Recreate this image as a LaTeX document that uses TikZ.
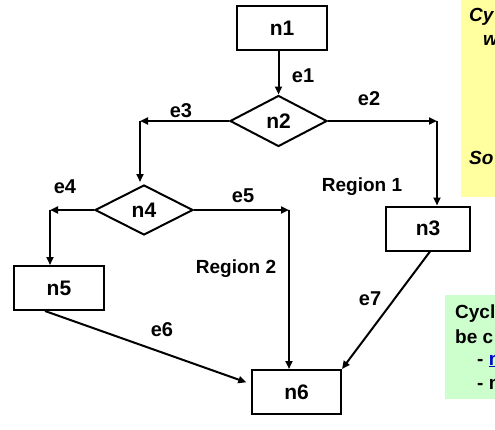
\documentclass[tikz,border=0pt]{standalone}
\usepackage{fontspec}
\setmainfont{Liberation Sans}
\usetikzlibrary{shapes.geometric,arrows.meta}
\definecolor{noteyellow}{RGB}{255,255,160}
\definecolor{notegreen}{RGB}{204,255,204}
\definecolor{linkblue}{RGB}{0,0,200}
\begin{document}
\begin{tikzpicture}[x=1pt,y=-1pt,
  every node/.style={font=\bfseries\fontsize{21}{24}\selectfont},
  boxnode/.style={draw,line width=2pt,minimum width=90pt,minimum height=44pt,inner sep=0pt},
  decision/.style={draw,diamond,line width=2pt,inner sep=0pt,minimum width=97pt,minimum height=51pt,aspect=1.9},
  edge/.style={line width=2pt,-{Triangle[length=8pt,width=7pt]}},
  lbl/.style={font=\bfseries\fontsize{20}{22}\selectfont},
  region/.style={font=\bfseries\fontsize{19}{21}\selectfont},
  note/.style={font=\bfseries\fontsize{19}{21}\selectfont,anchor=base west,inner sep=0pt},
  inote/.style={note,font=\bfseries\itshape\fontsize{19}{21}\selectfont}]
\useasboundingbox (0,0) rectangle (495,429);
% notes
\fill[noteyellow] (461,0) rectangle (500,197);
\fill[notegreen] (445,295) rectangle (500,399);
\node[inote] (y1) at (469,21) {Cy};
\node[inote] (y2) at (483,45) {w};
\node[inote] (y3) at (469,164) {So};
\node[note] (g1) at (455,318) {Cycl};
\node[note] (g2) at (455,343) {be c};
\node[note] (g3) at (477,365) {- \textcolor{linkblue}{\underline{n}}};
\node[note] (g4) at (477,389) {- n};
% nodes
\node[boxnode] (n1) at (282,28) {n1};
\node[decision] (n2) at (278.5,121) {n2};
\node[boxnode,minimum width=84pt] (n3) at (428,228.5) {n3};
\node[decision,minimum width=98pt,minimum height=50pt] (n4) at (144,210) {n4};
\node[boxnode,minimum height=44pt] (n5) at (59,288) {n5};
\node[boxnode,minimum width=89pt] (n6) at (296.5,392) {n6};
% corner coordinates
\coordinate (c2) at (n2.east -| 437,0);
\coordinate (c3) at (n2.west -| 140,0);
\coordinate (c4) at (n4.west -| 50,0);
\coordinate (c5) at (n4.east -| 289,0);
% edges
\draw[edge] (n1.south -| n2.north) -- (n2.north);
\draw[edge] (n2.east) -- (c2);
\draw[edge] (c2) -- (c2 |- n3.north);
\draw[edge] (n2.west) -- (c3);
\draw[edge] (c3) -- ([yshift=2pt]c3 |- n4.north);
\draw[edge] (n4.west) -- (c4);
\draw[edge] (c4) -- (c4 |- n5.north);
\draw[edge] (n4.east) -- (c5);
\draw[edge] (c5) -- (c5 |- n6.north);
\draw[edge,shorten >=5pt] ([xshift=-14pt]n5.south) -- ([yshift=8pt]n6.west);
\draw[edge] ([xshift=2pt]n3.south) -- (n6.north east);
% labels
\node[lbl] (l1) at (303,76) {e1};
\node[lbl] (l2) at (369,99) {e2};
\node[lbl] (l3) at (181,111) {e3};
\node[lbl] (l4) at (65,187) {e4};
\node[lbl] (l5) at (243,196) {e5};
\node[lbl] (l6) at (162,330) {e6};
\node[lbl] (l7) at (370,299) {e7};
\node[region] (r1) at (362,187) {Region 1};
\node[region] (r2) at (236,269) {Region 2};
\end{tikzpicture}
\end{document}
